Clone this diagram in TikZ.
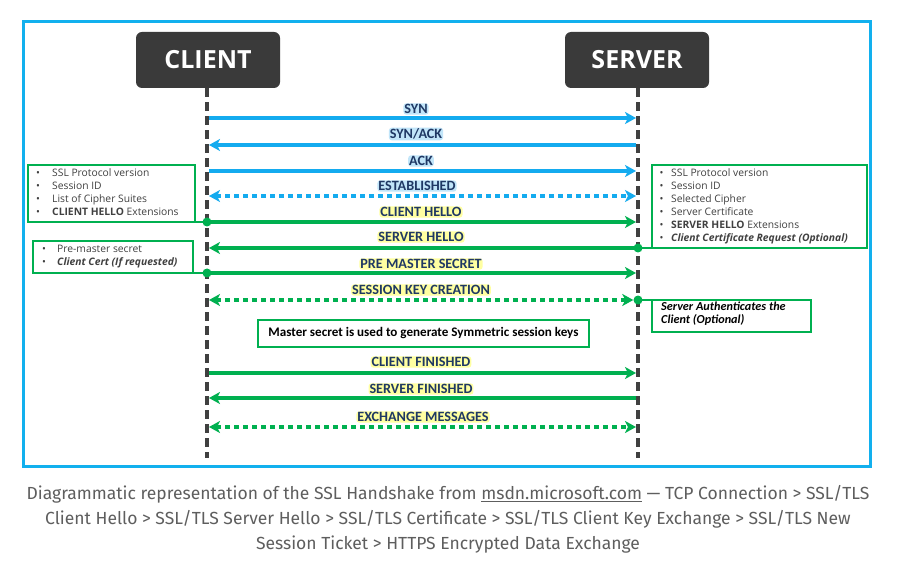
\documentclass[tikz,border=0pt]{standalone}
\usepackage{fontspec}
\usetikzlibrary{arrows.meta}
\setmainfont{Open Sans}
\newfontfamily\labfont{Carlito}
\newfontfamily\capfont{Fira Sans}
\definecolor{frameblue}{HTML}{12B0EE}
\definecolor{msgblue}{HTML}{14ABEF}
\definecolor{msggreen}{HTML}{00B050}
\definecolor{lifegray}{HTML}{404040}
\definecolor{boxgray}{HTML}{3A3A3A}
\definecolor{labtext}{HTML}{1F3864}
\definecolor{glowblue}{HTML}{A8DAF7}
\definecolor{glowyellow}{HTML}{FFFF7A}
\definecolor{captext}{HTML}{5E5E5E}
\definecolor{itemtext}{HTML}{404040}
\tikzset{
  actor/.style={fill=boxgray, rounded corners=6pt, minimum width=144pt, minimum height=56pt,
    text=white, font=\fontsize{25}{28}\selectfont\bfseries, inner sep=0pt},
  lifeline/.style={draw=lifegray, line width=4pt, dash pattern=on 9pt off 5pt},
  arr/.style={-{Stealth[length=11pt,width=12pt,inset=3pt]}},
  dblarr/.style={{Stealth[length=11pt,width=12pt,inset=3pt]}-{Stealth[length=11pt,width=12pt,inset=3pt]}},
  bluemsg/.style={draw=msgblue, line width=3.2pt},
  greenmsg/.style={draw=msggreen, line width=3.2pt},
  dottedmsg/.style={dash pattern=on 5pt off 4pt},
  bluelab/.style={text=labtext, font=\labfont\fontsize{14.2}{15}\selectfont\bfseries,
    fill=glowblue, fill opacity=0.7, text opacity=1, rounded corners=3pt, inner sep=1pt},
  greenlab/.style={bluelab, fill=glowyellow},
  infobox/.style={draw=msggreen, line width=2pt},
  items/.style={text=itemtext, font=\fontsize{10.3}{13}\selectfont, align=left, anchor=north west, inner sep=0pt},
  gdot/.style={circle, fill=msggreen, minimum size=9pt, inner sep=0pt},
}
\begin{document}
\begin{tikzpicture}[x=1pt,y=-1pt]
\useasboundingbox (0,0) rectangle (899,577);
\fill[white] (0,0) rectangle (899,577);
% frame
\draw[frameblue, line width=3pt] (23.5,21.5) rectangle (870.5,466);

% actors
\node[actor] (client) at (208,60) {CLIENT};
\node[actor] (server) at (637,60) {SERVER};
\coordinate (cbot) at (207,458);
\coordinate (sbot) at (638,458);
\draw[lifeline] (client.south -| cbot) -- (cbot);
\draw[lifeline] (server.south -| sbot) -- (sbot);

% message coordinates
\foreach \n/\y in {syn/118,synack/145,ack/171,est/196,ch/222,sh/248,pms/273,skc/300,cf/373,sf/398,ex/427}{
  \coordinate (c\n) at (209,\y);
  \coordinate (s\n) at (636,\y);
  \coordinate (cd\n) at (207,\y);
  \coordinate (sd\n) at (638,\y);
}

% TCP messages
\draw[bluemsg,arr] (csyn) -- (ssyn);
\draw[bluemsg,arr] (ssynack) -- (csynack);
\draw[bluemsg,arr] (cack) -- (sack);
\draw[bluemsg,dottedmsg,dblarr] (cest) -- (sest);

\node[bluelab] (lsyn) at (416,109) {SYN};
\node[bluelab] (lsynack) at (416,134) {SYN/ACK};
\node[bluelab] (lack) at (421,161) {ACK};
\node[bluelab] (lest) at (417,186) {ESTABLISHED};

% SSL messages
\node[gdot] (dch) at (cdch) {};
\draw[greenmsg,arr] (dch.center) -- (sch);
\node[gdot] (dsh) at (sdsh) {};
\draw[greenmsg,arr] (dsh.center) -- (csh);
\node[gdot] (dpms) at (cdpms) {};
\draw[greenmsg,arr] (dpms.center) -- (spms);
\node[gdot] (dskc) at (sdskc) {};
\draw[greenmsg,dottedmsg,dblarr] (cskc) -- (dskc.west);
\draw[greenmsg,arr] (ccf) -- (scf);
\draw[greenmsg,arr] (ssf) -- (csf);
\draw[greenmsg,dottedmsg,dblarr] (cex) -- (sex);

\node[greenlab] (lch) at (421,212) {CLIENT HELLO};
\node[greenlab] (lsh) at (421,237) {SERVER HELLO};
\node[greenlab] (lpms) at (421,264) {PRE MASTER SECRET};
\node[greenlab] (lskc) at (421,290) {SESSION KEY CREATION};
\node[greenlab] (lcf) at (421,362) {CLIENT FINISHED};
\node[greenlab] (lsf) at (421,389) {SERVER FINISHED};
\node[greenlab] (lex) at (423,417) {EXCHANGE MESSAGES};

% master secret box
\node[infobox, minimum width=331pt, minimum height=27pt, inner sep=0pt,
  font=\labfont\fontsize{13.1}{14}\selectfont\bfseries] (master) at (423.5,333.5)
  {Master secret is used to generate Symmetric session keys};

% client hello box
\draw[infobox] (195,222) -- (28,222) -- (28,165) -- (195,165) -- cycle;
\draw[msggreen, line width=2pt] (195,222) -- (dch.center);
\node[items] (chitems) at (36,168) {%
  \makebox[16pt][l]{\textbullet}SSL Protocol version\\
  \makebox[16pt][l]{\textbullet}Session ID\\
  \makebox[16pt][l]{\textbullet}List of Cipher Suites\\
  \makebox[16pt][l]{\textbullet}\textbf{CLIENT HELLO} Extensions};

% pre-master box
\draw[infobox] (193,273) -- (33,273) -- (33,241) -- (193,241) -- cycle;
\draw[msggreen, line width=2pt] (193,273) -- (dpms.center);
\node[items] (pmitems) at (42,245) {%
  \makebox[15pt][l]{\textbullet}Pre-master secret\\
  \makebox[15pt][l]{\textbullet}\textbf{\itshape Client Cert (If requested)}};

% server hello box
\draw[infobox] (652,248) -- (867,248) -- (867,165) -- (652,165) -- cycle;
\draw[msggreen, line width=2pt] (652,248) -- (dsh.center);
\node[items] (shitems) at (659.5,168) {%
  \makebox[11.5pt][l]{\textbullet}SSL Protocol version\\
  \makebox[11.5pt][l]{\textbullet}Session ID\\
  \makebox[11.5pt][l]{\textbullet}Selected Cipher\\
  \makebox[11.5pt][l]{\textbullet}Server Certificate\\
  \makebox[11.5pt][l]{\textbullet}\textbf{SERVER HELLO} Extensions\\
  \makebox[11.5pt][l]{\textbullet}\textbf{\itshape Client Certificate Request (Optional)}};

% server authenticates box
\draw[infobox] (652,300) -- (811,300) -- (811,332) -- (652,332) -- cycle;
\draw[msggreen, line width=2pt] (652,300) -- (dskc.center);
\node[items, font=\labfont\fontsize{12.2}{13}\selectfont\bfseries\itshape, text=black] (auth) at (661,302)
  {Server Authenticates the\\Client (Optional)};

% caption
\node[text=captext, font=\capfont\fontsize{17.5}{25}\selectfont, align=center] (caption) at (448,519)
  {Diagrammatic representation of the SSL Handshake from \underline{msdn.microsoft.com} — TCP Connection > SSL/TLS\\
   Client Hello > SSL/TLS Server Hello > SSL/TLS Certificate > SSL/TLS Client Key Exchange > SSL/TLS New\\
   Session Ticket > HTTPS Encrypted Data Exchange};
\end{tikzpicture}
\end{document}
